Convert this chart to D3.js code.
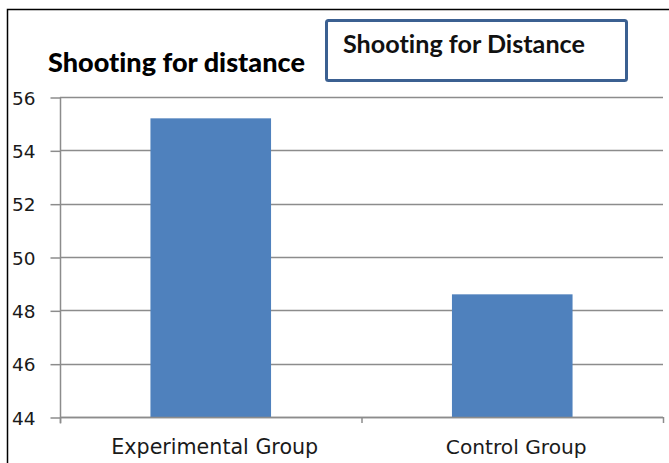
<!DOCTYPE html>
<html>
<head>
<meta charset="utf-8">
<script src="https://cdn.jsdelivr.net/npm/d3@7/dist/d3.min.js"></script>
<style>
  html, body { margin: 0; padding: 0; background: #fff; }
  svg { display: block; }
  text { font-variant-ligatures: none; font-feature-settings: "liga" 0; }
</style>
</head>
<body>
<svg id="chart" width="669" height="463"></svg>
<script>
// Data
const categories = ["Experimental Group", "Control Group"];
const values = [55.2, 48.6];
const yTicks = [44, 46, 48, 50, 52, 54, 56];
const chartTitle = "Shooting for distance";
const boxTitle = "Shooting for Distance";

const svg = d3.select("#chart");
const W = 669, H = 463;
const plot = { left: 60, right: 663, top: 97, bottom: 417 };

// Size a text element so its rendered width equals the target width
function fitWidth(sel, target) {
  const node = sel.node();
  const fs = parseFloat(sel.attr("font-size"));
  const w = node.getComputedTextLength();
  if (w > 0) sel.attr("font-size", (fs * target / w).toFixed(2));
}

// Outer frame (top and left edges)
svg.append("path")
  .attr("d", `M7.5,${H} L7.5,9.5 L${W},9.5`)
  .attr("fill", "none")
  .attr("stroke", "#000")
  .attr("stroke-width", 1.5);

const x = d3.scaleBand()
  .domain(categories)
  .range([plot.left, plot.right])
  .paddingInner(0.6)
  .paddingOuter(0.3);

const y = d3.scaleLinear()
  .domain([44, 56])
  .range([plot.bottom, plot.top]);

const gridColor = "#8c8c8c";

// Horizontal gridlines
svg.append("g")
  .selectAll("line")
  .data(yTicks)
  .join("line")
  .attr("x1", plot.left)
  .attr("x2", plot.right)
  .attr("y1", d => Math.round(y(d)) + 0.5)
  .attr("y2", d => Math.round(y(d)) + 0.5)
  .attr("stroke", gridColor)
  .attr("stroke-width", 1.5);

// Bars
svg.append("g")
  .selectAll("rect")
  .data(values)
  .join("rect")
  .attr("x", (d, i) => x(categories[i]))
  .attr("width", x.bandwidth())
  .attr("y", d => y(d))
  .attr("height", d => y(44) - y(d))
  .attr("fill", "#4f81bd");

// Y axis
const yAxis = svg.append("g")
  .attr("transform", `translate(${plot.left + 0.5},0.5)`)
  .call(d3.axisLeft(y).tickValues(yTicks).tickSize(10).tickPadding(15).tickFormat(d3.format("d")));
yAxis.select(".domain").attr("d", `M0,${plot.top - 0.5} V${plot.bottom + 6}`);
yAxis.selectAll("line, .domain").attr("stroke", gridColor).attr("stroke-width", 1.5);
yAxis.selectAll("text")
  .attr("font-family", "'DejaVu Sans', Verdana, sans-serif")
  .attr("font-size", 18.5)
  .attr("fill", "#1a1a1a")
  .attr("dy", "0.36em");

// X axis (category boundaries carry the ticks)
const xAxis = svg.append("g");
xAxis.append("line")
  .attr("x1", plot.left).attr("x2", plot.right)
  .attr("y1", plot.bottom + 0.5).attr("y2", plot.bottom + 0.5)
  .attr("stroke", gridColor).attr("stroke-width", 1.5);
const step = (plot.right - plot.left) / categories.length;
xAxis.selectAll("line.tick")
  .data(d3.range(categories.length + 1))
  .join("line")
  .attr("class", "tick")
  .attr("x1", i => plot.left + i * step + 0.5)
  .attr("x2", i => plot.left + i * step + 0.5)
  .attr("y1", plot.bottom)
  .attr("y2", plot.bottom + 6)
  .attr("stroke", gridColor).attr("stroke-width", 1.5);

xAxis.selectAll("text")
  .data(categories)
  .join("text")
  .attr("x", d => x(d) + x.bandwidth() / 2 + 4)
  .attr("y", 454)
  .attr("text-anchor", "middle")
  .attr("font-family", "'DejaVu Sans', Verdana, sans-serif")
  .attr("font-size", 16)
  .attr("fill", "#1a1a1a")
  .text(d => d)
  .each(function (d, i) { fitWidth(d3.select(this), i === 0 ? 207 : 141); });

// Chart title
const t = svg.append("text")
  .attr("x", 48)
  .attr("y", 72)
  .attr("font-family", "Lato, 'Open Sans', sans-serif")
  .attr("font-weight", 900)
  .attr("font-size", 22)
  .attr("fill", "#000")
  .text(chartTitle);
fitWidth(t, 257);

// Framed text box
svg.append("rect")
  .attr("x", 326.5)
  .attr("y", 20.5)
  .attr("width", 300)
  .attr("height", 60)
  .attr("rx", 2)
  .attr("fill", "#fff")
  .attr("stroke", "#3b6091")
  .attr("stroke-width", 3);
const bt = svg.append("text")
  .attr("x", 343)
  .attr("y", 53)
  .attr("font-family", "Lato, 'Open Sans', sans-serif")
  .attr("font-weight", "bold")
  .attr("font-size", 20)
  .attr("fill", "#111")
  .text(boxTitle);
fitWidth(bt, 242);
</script>
</body>
</html>
